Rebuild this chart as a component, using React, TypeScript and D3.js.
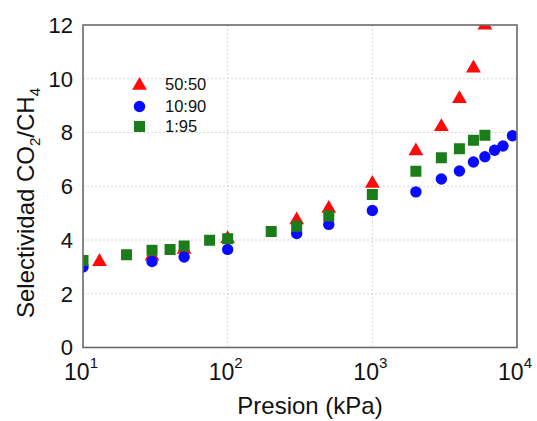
import React, { useRef, useEffect } from 'react';
import * as d3 from 'd3';

// 50:50 mixture (triangles)
const pres5050 = [13, 30, 50, 100, 300, 500, 1000, 2000, 3000, 4000, 5000, 6000];
const sel5050 = [3.25, 3.45, 3.7, 4.1, 4.8, 5.23, 6.16, 7.37, 8.27, 9.31, 10.45, 12.05];

// 10:90 mixture (circles)
const pres1090 = [10, 30, 50, 100, 300, 500, 1000, 2000, 3000, 4000, 5000, 6000, 7000, 8000, 9300];
const sel1090 = [3.0, 3.2, 3.37, 3.65, 4.24, 4.58, 5.1, 5.79, 6.27, 6.57, 6.9, 7.1, 7.34, 7.5, 7.88];

// 1:95 mixture (squares)
const pres195 = [10, 20, 30, 40, 50, 75, 100, 200, 300, 500, 1000, 2000, 3000, 4000, 5000, 6000];
const sel195 = [3.24, 3.45, 3.62, 3.65, 3.78, 3.99, 4.05, 4.32, 4.51, 4.89, 5.69, 6.56, 7.06, 7.4, 7.71, 7.9];

const seriesNames = ['50:50', '10:90', '1:95'];
const xTicks = [10, 100, 1000, 10000];
const yTicks = [0, 2, 4, 6, 8, 10, 12];

const W = 537;
const H = 421;
const margin = { left: 83, right: 20, top: 25, bottom: 73.5 };

const App = () => {
    const svgRef = useRef<SVGSVGElement>(null);

    useEffect(() => {
        const svg = d3.select(svgRef.current);
        svg.selectAll('*').remove();

        const x = d3.scaleLog().domain([10, 10000]).range([margin.left, W - margin.right]);
        const y = d3.scaleLinear().domain([0, 12]).range([H - margin.bottom, margin.top]);
        const [x0, x1] = x.range();
        const [y0, y1] = y.range();

        svg.append('defs').append('clipPath').attr('id', 'plotclip')
            .append('rect')
            .attr('x', x0).attr('y', y1)
            .attr('width', x1 - x0).attr('height', y0 - y1);

        // grid
        const grid = svg.append('g');
        grid.selectAll('.gx').data(xTicks.slice(1, -1)).enter().append('line')
            .attr('x1', (d) => x(d)).attr('x2', (d) => x(d))
            .attr('y1', y1).attr('y2', y0)
            .attr('stroke', '#d6d6d6').attr('stroke-width', 1).attr('stroke-dasharray', '2,2');
        grid.selectAll('.gy').data(yTicks.slice(1, -1)).enter().append('line')
            .attr('y1', (d) => y(d)).attr('y2', (d) => y(d))
            .attr('x1', x0).attr('x2', x1)
            .attr('stroke', '#d6d6d6').attr('stroke-width', 1).attr('stroke-dasharray', '2,2');

        const plot = svg.append('g').attr('clip-path', 'url(#plotclip)');

        const tri = d3.symbol().type(d3.symbolTriangle).size(95);
        const sq = d3.symbol().type(d3.symbolSquare).size(121);

        plot.selectAll('.tri').data(pres5050).enter().append('path')
            .attr('d', tri)
            .attr('transform', (d, i) => `translate(${x(d)},${y(sel5050[i]) + 1.5})`)
            .attr('fill', '#ff0a0a');

        plot.selectAll('.circ').data(pres1090).enter().append('circle')
            .attr('cx', (d) => x(d))
            .attr('cy', (d, i) => y(sel1090[i]))
            .attr('r', 5.7)
            .attr('fill', '#0a0aff');

        plot.selectAll('.sq').data(pres195).enter().append('path')
            .attr('d', sq)
            .attr('transform', (d, i) => `translate(${x(d)},${y(sel195[i])})`)
            .attr('fill', '#1a7d1a');

        // frame
        svg.append('rect')
            .attr('x', x0).attr('y', y1)
            .attr('width', x1 - x0).attr('height', y0 - y1)
            .attr('fill', 'none').attr('stroke', '#6a6a6a').attr('stroke-width', 1.6);

        const font = 'Arial, "Liberation Sans", sans-serif';

        // y tick labels
        svg.selectAll('.yl').data(yTicks).enter().append('text')
            .attr('x', x0 - 10)
            .attr('y', (d) => y(d))
            .attr('dy', '0.36em')
            .attr('text-anchor', 'end')
            .attr('font-family', font)
            .attr('font-size', 22)
            .attr('fill', '#111')
            .text((d) => d);

        // x tick labels 10^n
        const xl = svg.selectAll('.xl').data(xTicks).enter().append('text')
            .attr('x', (d) => x(d) - 2)
            .attr('y', 380)
            .attr('text-anchor', 'middle')
            .attr('font-family', font)
            .attr('font-size', 23)
            .attr('fill', '#111');
        xl.append('tspan').text('10');
        xl.append('tspan').attr('font-size', 15).attr('dy', -12)
            .text((d) => String(Math.round(Math.log10(d))));

        // axis titles
        svg.append('text')
            .attr('x', 310).attr('y', 414)
            .attr('text-anchor', 'middle')
            .attr('font-family', font)
            .attr('font-size', 24)
            .attr('fill', '#111')
            .text('Presion (kPa)');

        const yt = svg.append('text')
            .attr('transform', 'translate(34,203) rotate(-90)')
            .attr('text-anchor', 'middle')
            .attr('font-family', font)
            .attr('font-size', 24)
            .attr('fill', '#111');
        yt.append('tspan').text('Selectividad CO');
        yt.append('tspan').attr('font-size', 15).attr('dy', 6).text('2');
        yt.append('tspan').attr('dy', -6).text('/CH');
        yt.append('tspan').attr('font-size', 15).attr('dy', 6).text('4');

        // legend
        const legend = svg.append('g');
        const ly = [84, 106.5, 126.5];
        const lx = 139.5;
        legend.append('path').attr('d', tri).attr('transform', `translate(${lx},${ly[0] + 1.5})`).attr('fill', '#ff0a0a');
        legend.append('circle').attr('cx', lx).attr('cy', ly[1]).attr('r', 5.7).attr('fill', '#0a0aff');
        legend.append('path').attr('d', sq).attr('transform', `translate(${lx},${ly[2]})`).attr('fill', '#1a7d1a');
        legend.selectAll('.lt').data(seriesNames).enter().append('text')
            .attr('x', 165)
            .attr('y', (d, i) => ly[i])
            .attr('dy', '0.36em')
            .attr('font-family', font)
            .attr('font-size', 16.5)
            .attr('fill', '#111')
            .text((d) => d);
    }, []);

    return (
        <svg ref={svgRef} width={W} height={H}
            style={{ position: 'absolute', left: 0, top: 0, background: '#fff' }} />
    );
};

export default App;
